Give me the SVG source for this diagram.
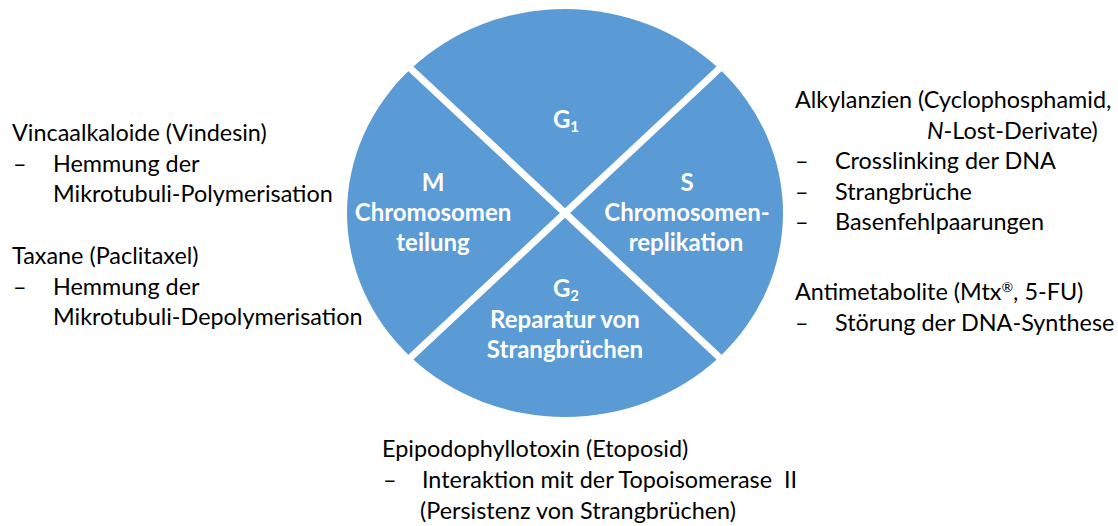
<svg xmlns="http://www.w3.org/2000/svg" width="1118" height="526" viewBox="0 0 1118 526">
  <style>
    .t { font-family: Lato, "Liberation Sans", sans-serif; font-size: 23.4px; fill: #000000; }
    .w { font-family: Lato, "Liberation Sans", sans-serif; font-size: 24px; font-weight: bold; fill: #ffffff; text-anchor: middle; }
    .sub { font-size: 15px; }
    .sep { stroke: #ffffff; stroke-width: 7; }
    .pre { white-space: pre; }
  </style>
  <rect width="1118" height="526" fill="#ffffff"/>
  <g id="cycle">
    <ellipse cx="565" cy="213" rx="218" ry="204" fill="#5B9BD5"/>
  </g>
  <g id="connectors">
    <line class="sep" x1="395" y1="54" x2="735" y2="372"/>
    <line class="sep" x1="395" y1="372" x2="735" y2="54"/>
  </g>
  <g id="phase-g1">
    <text class="w" x="566" y="128">G<tspan class="sub" dy="4">1</tspan></text>
  </g>
  <g id="phase-m">
    <text class="w" x="433" y="191">M</text>
    <text class="w" x="433" y="221">Chromosomen</text>
    <text class="w" x="433" y="251">teilung</text>
  </g>
  <g id="phase-s">
    <text class="w" x="687" y="191">S</text>
    <text class="w" x="687" y="221">Chromosomen-</text>
    <text class="w" x="686" y="251">replikation</text>
  </g>
  <g id="phase-g2">
    <text class="w" x="566" y="297">G<tspan class="sub" dy="4">2</tspan></text>
    <text class="w" x="565" y="328">Reparatur von</text>
    <text class="w" x="565" y="358">Strangbrüchen</text>
  </g>
  <g id="left-drugs">
    <text class="t" x="12" y="141">Vincaalkaloide (Vindesin)</text>
    <text class="t" x="13" y="172">–</text>
    <text class="t" x="53" y="172">Hemmung der</text>
    <text class="t" x="53" y="202">Mikrotubuli-Polymerisation</text>
    <text class="t" x="12" y="264">Taxane (Paclitaxel)</text>
    <text class="t" x="13" y="295">–</text>
    <text class="t" x="53" y="295">Hemmung der</text>
    <text class="t" x="53" y="325">Mikrotubuli-Depolymerisation</text>
  </g>
  <g id="right-drugs">
    <text class="t" x="795" y="108">Alkylanzien (Cyclophosphamid,</text>
    <text class="t" x="927" y="139"><tspan font-style="italic">N</tspan>-Lost-Derivate)</text>
    <text class="t" x="795" y="169">–</text>
    <text class="t" x="835" y="169">Crosslinking der DNA</text>
    <text class="t" x="795" y="200">–</text>
    <text class="t" x="835" y="200">Strangbrüche</text>
    <text class="t" x="795" y="230">–</text>
    <text class="t" x="835" y="230">Basenfehlpaarungen</text>
    <text class="t" x="795" y="300">Antimetabolite (Mtx<tspan font-size="14" dy="-8">®</tspan><tspan dy="8">, 5-FU)</tspan></text>
    <text class="t" x="795" y="331">–</text>
    <text class="t" x="835" y="331">Störung der DNA-Synthese</text>
  </g>
  <g id="bottom-drugs">
    <text class="t" x="382" y="457">Epipodophyllotoxin (Etoposid)</text>
    <text class="t" x="383" y="488">–</text>
    <text class="t pre" x="422" y="488">Interaktion mit der Topoisomerase  II</text>
    <text class="t" x="420" y="519">(Persistenz von Strangbrüchen)</text>
  </g>
</svg>
